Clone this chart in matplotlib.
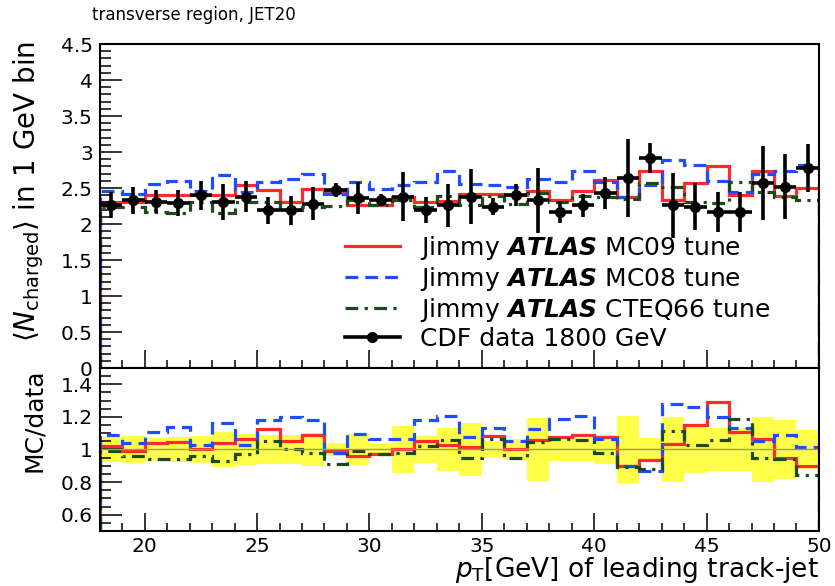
import numpy as np
import matplotlib
matplotlib.use('Agg')
import matplotlib.pyplot as plt
from matplotlib.ticker import MultipleLocator, FuncFormatter
from matplotlib.lines import Line2D

plt.rcParams['font.family'] = ['DejaVu Sans']
plt.rcParams['mathtext.fontset'] = 'dejavusans'

# ---- data (bins of 1 GeV from 18 to 50) ----
bin_edges = list(range(18, 51))
data = [2.26, 2.33, 2.31, 2.29, 2.40, 2.31, 2.38, 2.19, 2.19, 2.28, 2.47, 2.36,
        2.33, 2.38, 2.19, 2.26, 2.38, 2.24, 2.40, 2.33, 2.17, 2.26, 2.43, 2.64,
        2.92, 2.26, 2.24, 2.17, 2.17, 2.57, 2.52, 2.78]
data_err = [0.18, 0.19, 0.16, 0.18, 0.20, 0.25, 0.22, 0.19, 0.20, 0.23, 0.10, 0.22,
            0.08, 0.34, 0.18, 0.30, 0.38, 0.12, 0.15, 0.45, 0.15, 0.16, 0.22, 0.54,
            0.21, 0.45, 0.33, 0.28, 0.28, 0.52, 0.45, 0.33]
mc09 = [2.31, 2.31, 2.40, 2.40, 2.40, 2.40, 2.54, 2.47, 2.30, 2.48, 2.45, 2.27,
        2.27, 2.38, 2.31, 2.32, 2.41, 2.42, 2.40, 2.46, 2.34, 2.46, 2.61, 2.38,
        2.74, 2.34, 2.57, 2.80, 2.40, 2.74, 2.39, 2.50]
mc08 = [2.46, 2.42, 2.56, 2.60, 2.46, 2.68, 2.44, 2.58, 2.63, 2.69, 2.42, 2.59,
        2.48, 2.54, 2.58, 2.73, 2.56, 2.54, 2.52, 2.63, 2.58, 2.73, 2.59, 2.38,
        2.54, 2.89, 2.82, 2.60, 2.45, 2.70, 2.74, 2.82]
cteq66 = [2.24, 2.24, 2.17, 2.15, 2.30, 2.15, 2.31, 2.30, 2.19, 2.23, 2.25, 2.34,
          2.26, 2.33, 2.24, 2.39, 2.26, 2.39, 2.28, 2.43, 2.31, 2.39, 2.38, 2.35,
          2.57, 2.52, 2.30, 2.29, 2.58, 2.44, 2.37, 2.34]

labels = [r'Jimmy $\mathbfit{ATLAS}$ MC09 tune',
          r'Jimmy $\mathbfit{ATLAS}$ MC08 tune',
          r'Jimmy $\mathbfit{ATLAS}$ CTEQ66 tune',
          'CDF data 1800 GeV']

RED = '#ff2b2b'
BLUE = '#1e4dff'
GREEN = '#1d4a1d'
YELLOW = '#ffff4a'

edges = np.array(bin_edges, dtype=float)
centers = 0.5 * (edges[:-1] + edges[1:])
d = np.array(data)
de = np.array(data_err)

fig = plt.figure(figsize=(8.35, 5.86), dpi=100)
ax1 = fig.add_axes([0.1194, 0.372, 0.8614, 0.5529])
ax2 = fig.add_axes([0.1194, 0.0939, 0.8614, 0.2781])

lw = 2.3
ax1.stairs(mc09, edges, color=RED, lw=lw, linestyle='-')
ax1.stairs(mc08, edges, color=BLUE, lw=lw, linestyle=(0, (4, 2.2)))
ax1.stairs(cteq66, edges, color=GREEN, lw=lw, linestyle=(0, (4, 2, 1, 2)))
ax1.errorbar(centers, d, yerr=de, xerr=0.5, fmt='o', color='black', ms=7,
             elinewidth=2.6, capsize=0, zorder=5)

# ratio panel
rel = de / d
ax2.stairs(1 + rel, edges, baseline=1 - rel, fill=True, color=YELLOW, lw=0)
ax2.axhline(1.0, color='#9a9a6a', lw=1.0)
ax2.stairs(np.array(mc09) / d, edges, color=RED, lw=lw, linestyle='-')
ax2.stairs(np.array(mc08) / d, edges, color=BLUE, lw=lw, linestyle=(0, (4, 2.2)))
ax2.stairs(np.array(cteq66) / d, edges, color=GREEN, lw=lw, linestyle=(0, (4, 2, 1, 2)))

fmt = FuncFormatter(lambda v, p: f'{v:g}')
for ax in (ax1, ax2):
    ax.set_xlim(18, 50)
    ax.xaxis.set_major_locator(MultipleLocator(5))
    ax.xaxis.set_minor_locator(MultipleLocator(1))
    ax.tick_params(axis='both', which='both', direction='in', top=False, right=False,
                   width=1.1, labelsize=14.5)
    ax.tick_params(axis='y', which='major', length=16, pad=5)
    ax.tick_params(axis='y', which='minor', length=8)
    ax.tick_params(axis='x', which='major', length=13, pad=4)
    ax.tick_params(axis='x', which='minor', length=6)
    ax.yaxis.set_major_formatter(fmt)
    for s in ax.spines.values():
        s.set_linewidth(1.5)

ax1.set_ylim(0, 4.5)
ax1.yaxis.set_major_locator(MultipleLocator(0.5))
ax1.yaxis.set_minor_locator(MultipleLocator(0.1))
ax1.tick_params(axis='x', labelbottom=False)

ax2.set_ylim(0.5, 1.5)
ax2.yaxis.set_major_locator(MultipleLocator(0.2))
ax2.yaxis.set_minor_locator(MultipleLocator(0.05))

ax1.set_ylabel(r'$\langle N_{\mathrm{charged}}\rangle$ in 1 GeV bin', fontsize=20, loc='top')
ax1.yaxis.set_label_coords(-0.074, 1.01)
ax2.set_ylabel('MC/data', fontsize=18, loc='top')
ax2.yaxis.set_label_coords(-0.074, 1.0)
ax2.set_xlabel(r'$p_{\mathrm{T}}$[GeV] of leading track-jet', fontsize=19, loc='right')
ax2.xaxis.set_label_coords(1.0, -0.15)

fig.text(92 / 835, 1 - 15 / 586, 'transverse region, JET20', fontsize=12, va='center')

handles = [Line2D([], [], color=RED, lw=lw),
           Line2D([], [], color=BLUE, lw=lw, linestyle=(0, (4, 2.2))),
           Line2D([], [], color=GREEN, lw=lw, linestyle=(0, (4, 2, 1, 2))),
           Line2D([], [], color='black', lw=2.6, marker='o', ms=7)]
ax1.legend(handles, labels, loc='upper left', bbox_to_anchor=(0.341, 0.415),
           frameon=False, fontsize=18, borderpad=0, borderaxespad=0,
           handlelength=2.2, handletextpad=0.8, labelspacing=0.12)

fig.savefig('out.png', dpi=100)
